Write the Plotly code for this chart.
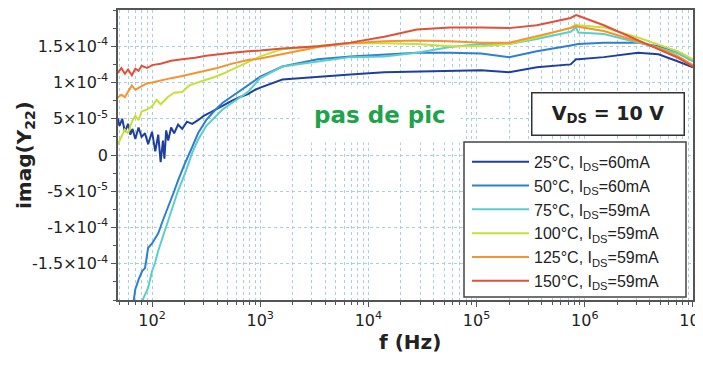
import plotly.graph_objects as go

# frequency grid for the smooth upper part (Hz)
f_hi = [1e3, 1.6e3, 3.4e3, 6.8e3, 1.4e4, 2.8e4, 5.7e4, 1.1e5, 2e5, 3.6e5,
        7.4e5, 8.3e5, 8.7e5, 1.5e6, 3.1e6, 4.8e6, 7.3e6, 1e7]

# values in units of 1e-5
f_25_lo = [48, 50, 53, 56, 60, 63, 66, 70, 75, 80, 86, 92, 100, 107, 114, 120, 126, 130,
           135, 141, 150, 160, 174, 190, 210, 235, 266, 300, 350, 400, 470, 550, 650, 770, 900]
y_25_lo = [5.1, 4.0, 5.0, 3.2, 4.3, 2.8, 3.6, 2.2, 3.8, 2.5, 3.0, 1.5, 3.2, 0.5, 2.8, -1.0, 2.0, -0.5,
           3.4, 2.0, 3.8, 3.0, 4.2, 3.6, 4.6, 4.3, 4.8, 5.4, 5.9, 6.4, 6.9, 7.5, 8.0, 8.4, 9.0]
y_25_hi = [9.3, 10.4, 10.8, 11.1, 11.4, 11.5, 11.7, 11.7, 11.4, 12.1,
           12.5, 13.2, 13.2, 13.5, 14.1, 13.9, 12.9, 12.1]

f_50_lo = [67, 70, 75, 81, 86, 92, 100, 107, 114, 126, 141, 160, 174, 190, 202, 235, 266,
           316, 383, 450, 550, 770]
y_50_lo = [-20.5, -18.5, -17.2, -16.0, -15.6, -12.8, -12.2, -11.5, -10.8, -9.0, -7.2, -5.0,
           -3.5, -2.0, -1.1, 1.1, 3.0, 4.8, 6.2, 7.2, 8.1, 9.7]
y_50_hi = [10.8, 12.2, 13.2, 13.6, 13.9, 14.1, 14.1, 14.0, 13.5, 14.3,
           15.1, 15.3, 15.3, 15.5, 15.5, 15.0, 14.1, 13.0]

f_75_lo = [79, 85, 92, 100, 107, 114, 126, 141, 160, 174, 190, 202, 235, 266, 316, 383,
           450, 550, 770]
y_75_lo = [-20.5, -19.5, -18.3, -16.0, -14.8, -13.2, -11.2, -9.0, -6.5, -4.9, -3.5, -2.5,
           0.3, 2.1, 4.0, 5.3, 6.3, 7.2, 8.7]
y_75_hi = [10.6, 12.2, 12.9, 13.5, 13.6, 14.1, 14.9, 15.3, 15.3, 16.0,
           17.0, 17.6, 16.9, 16.7, 15.5, 14.8, 14.0, 12.9]

f_100_lo = [48, 52, 56, 60, 65, 70, 75, 80, 90, 100, 110, 120, 140, 160, 190, 220, 266,
            316, 383, 450, 550, 650, 770]
y_100_lo = [1.4, 2.4, 3.5, 3.0, 4.6, 5.4, 4.8, 6.0, 6.3, 6.7, 7.6, 7.0, 8.0, 8.6, 8.7, 9.6,
            10.0, 10.3, 10.8, 11.2, 11.8, 12.3, 12.8]
y_100_hi = [13.6, 14.6, 15.0, 15.4, 15.4, 15.3, 15.0, 15.0, 15.3, 16.2,
            17.6, 18.0, 17.9, 17.6, 16.2, 15.2, 14.3, 13.2]

f_125_lo = [48, 52, 56, 60, 65, 70, 80, 90, 100, 120, 150, 190, 250, 316, 400, 550, 770]
y_125_lo = [7.9, 8.3, 8.0, 8.8, 9.6, 9.0, 9.5, 9.9, 10.0, 10.3, 10.6, 10.9, 11.3, 11.7,
            12.0, 12.6, 13.1]
y_125_hi = [13.3, 13.9, 14.9, 15.4, 15.7, 15.8, 15.7, 15.5, 15.5, 16.4,
            17.5, 17.8, 17.7, 17.1, 15.7, 14.8, 13.6, 12.4]

f_150_lo = [48, 52, 56, 60, 65, 70, 75, 80, 90, 100, 120, 150, 190, 250, 316, 400, 550, 770]
y_150_lo = [11.3, 12.0, 11.2, 11.8, 11.0, 11.9, 11.6, 12.3, 12.0, 12.4, 12.6, 13.0, 13.2,
            13.4, 13.7, 13.9, 14.1, 14.3]
y_150_hi = [14.4, 14.7, 15.0, 15.5, 16.3, 17.3, 17.6, 17.6, 17.5, 17.9,
            18.9, 19.3, 19.2, 17.9, 15.8, 14.6, 13.4, 12.2]

series = [
    ("25°C, I<sub>DS</sub>=60mA", f_25_lo, y_25_lo, y_25_hi, "#1e3f9e"),
    ("50°C, I<sub>DS</sub>=60mA", f_50_lo, y_50_lo, y_50_hi, "#2e7fd2"),
    ("75°C, I<sub>DS</sub>=59mA", f_75_lo, y_75_lo, y_75_hi, "#5ccdc8"),
    ("100°C, I<sub>DS</sub>=59mA", f_100_lo, y_100_lo, y_100_hi, "#c8df3a"),
    ("125°C, I<sub>DS</sub>=59mA", f_125_lo, y_125_lo, y_125_hi, "#f59332"),
    ("150°C, I<sub>DS</sub>=59mA", f_150_lo, y_150_lo, y_150_hi, "#e0513a"),
]

fig = go.Figure()
for name, flo, ylo, yhi, col in series:
    fig.add_trace(go.Scatter(x=flo + f_hi, y=[v * 1e-5 for v in ylo + yhi],
                             mode="lines", name=name,
                             line=dict(color=col, width=2)))

grid = "#a9cfe5"
ytick_vals = [-1.5e-4, -1e-4, -5e-5, 0, 5e-5, 1e-4, 1.5e-4]
ytick_text = ["-1.5×10<sup>-4</sup>", "-1×10<sup>-4</sup>", "-5×10<sup>-5</sup>", "0",
              "5×10<sup>-5</sup>", "1×10<sup>-4</sup>", "1.5×10<sup>-4</sup>"]

# the page body adds an 8px offset, so the figure is 8px smaller
fig.update_layout(
    width=695, height=357,
    margin=dict(l=110, r=10, t=2, b=65),
    paper_bgcolor="white", plot_bgcolor="white",
    font=dict(family="DejaVu Sans", size=16, color="#222"),
    showlegend=True,
    legend=dict(x=0.607, y=0.535, xanchor="left", yanchor="top",
                bgcolor="rgba(0,0,0,0)", borderwidth=0, itemwidth=57,
                font=dict(family="Liberation Sans", size=16), tracegroupgap=0),
    xaxis=dict(type="log", range=[1.685, 7.0005], showline=True, linecolor="#555", linewidth=1.5,
               mirror=True, ticks="outside", ticklen=5, tickcolor="#555",
               tickvals=[1e2, 1e3, 1e4, 1e5, 1e6, 1e7],
               ticktext=["10<sup>2</sup>", "10<sup>3</sup>", "10<sup>4</sup>",
                         "10<sup>5</sup>", "10<sup>6</sup>", "10<sup>7</sup>"],
               ticklabeloverflow="allow",
               showgrid=True, gridcolor=grid, griddash="dot", gridwidth=1,
               minor=dict(dtick="D1", showgrid=True, gridcolor=grid, griddash="dot",
                          ticks="outside", ticklen=3, tickcolor="#555"),
               automargin=False, zeroline=False),
    yaxis=dict(range=[-2e-4, 2e-4], showline=True, linecolor="#555", linewidth=1.5,
               mirror=True, ticks="outside", ticklen=5, tickcolor="#555",
               tickvals=ytick_vals, ticktext=ytick_text,
               showgrid=True, gridcolor=grid, griddash="dot", gridwidth=1,
               minor=dict(dtick=2.5e-5, ticks="outside", ticklen=3, tickcolor="#555",
                          showgrid=False),
               automargin=False, zeroline=False),
)

# legend frame
fig.add_shape(type="rect", xref="paper", yref="paper",
              x0=(464 - 118) / 575, x1=(686 - 118) / 575,
              y0=(300 - 297) / 290, y1=(300 - 142) / 290,
              line=dict(color="#444", width=1.5), fillcolor="white", layer="above")

# axis titles
fig.add_annotation(x=(410 - 118) / 575, y=-(342 - 300) / 290, xref="paper", yref="paper",
                   text="<b>f (Hz)</b>", showarrow=False,
                   font=dict(size=20, color="#222"), xanchor="center", yanchor="middle")
fig.add_annotation(x=-(118 - 25) / 575, y=0.5, xref="paper", yref="paper",
                   text="<b>imag(Y<sub>22</sub>)</b>", textangle=-90,
                   showarrow=False, font=dict(size=20, color="#222"),
                   xanchor="center", yanchor="middle")

fig.add_annotation(x=0.456, y=0.638, xref="paper", yref="paper",
                   text="<b>pas de pic</b>", showarrow=False,
                   font=dict(size=23, color="#1ea34a"),
                   bgcolor="white", borderpad=14,
                   xanchor="center", yanchor="middle")
fig.add_annotation(x=0.852, y=0.643, xref="paper", yref="paper",
                   text="<b>V<sub>DS</sub> = 10 V</b>", showarrow=False,
                   font=dict(size=19, color="#222"),
                   bgcolor="white", bordercolor="#333", borderwidth=1.5,
                   borderpad=8, width=135, xanchor="center", yanchor="middle")

fig.write_html("out.html")
